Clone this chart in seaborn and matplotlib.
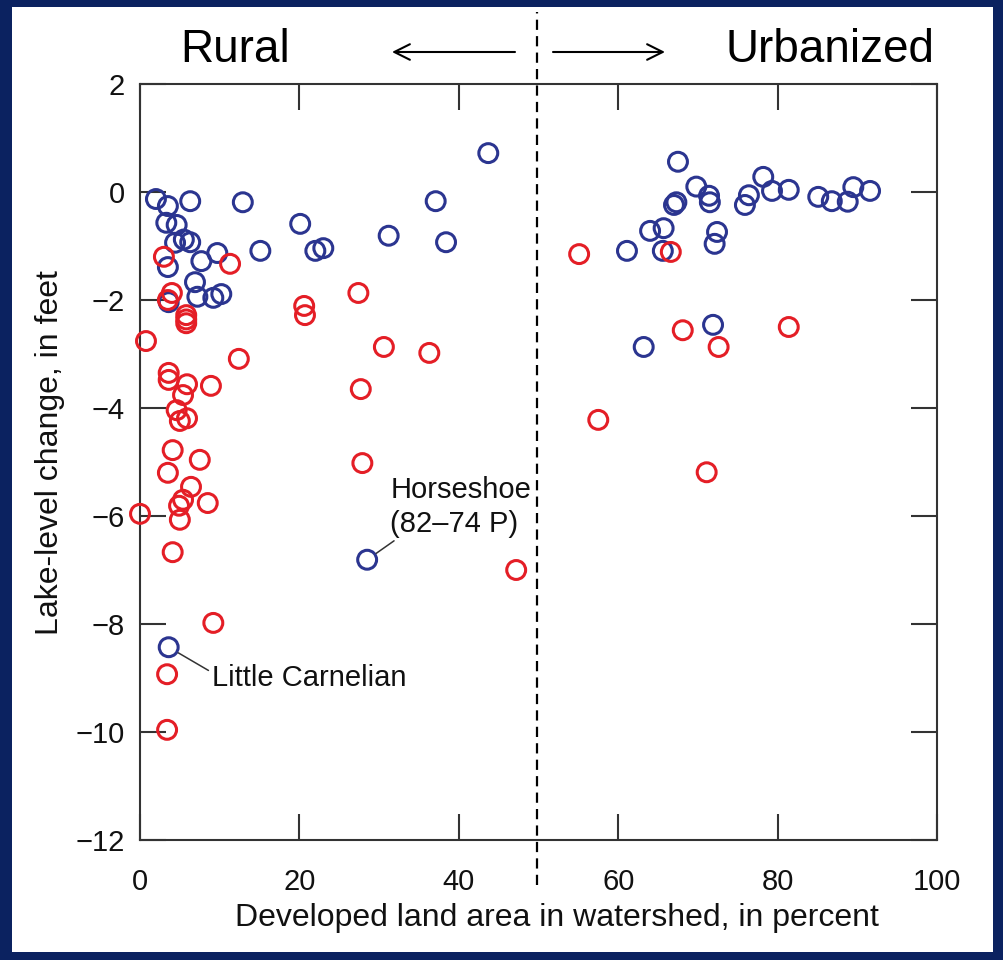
import matplotlib
matplotlib.use("Agg")
import matplotlib.pyplot as plt
import seaborn as sns
import pandas as pd
from matplotlib.patches import Rectangle

# ---- data: developed land (%) vs lake-level change (ft) ----
blue_dev = [2.0, 3.5, 6.3, 12.9, 3.3, 4.6, 4.4, 5.5, 6.3, 9.7, 7.7, 3.5, 6.9, 7.2,
            9.2, 10.2, 3.6, 15.1, 20.1, 22.0, 23.0, 31.2, 37.1, 38.4, 43.7,
            67.5, 69.8, 78.2, 79.3, 81.4, 85.1, 86.8, 89.5, 88.8, 91.6, 67.3, 67.0,
            71.4, 71.5, 76.4, 75.9, 64.0, 65.7, 61.1, 65.6, 72.4, 72.1, 71.9, 63.2]
blue_change = [-0.13, -0.26, -0.17, -0.19, -0.57, -0.61, -0.94, -0.88, -0.93, -1.13,
               -1.28, -1.39, -1.67, -1.94, -1.96, -1.89, -2.04, -1.09, -0.59, -1.09,
               -1.04, -0.81, -0.17, -0.93, 0.72,
               0.56, 0.10, 0.28, 0.02, 0.04, -0.09, -0.17, 0.09, -0.18, 0.02, -0.19,
               -0.24, -0.07, -0.19, -0.06, -0.24, -0.72, -0.67, -1.09, -1.09, -0.74,
               -0.96, -2.46, -2.87]

red_dev = [3.0, 11.3, 4.0, 3.5, 5.8, 5.8, 5.8, 20.6, 20.7, 27.4, 0.75, 12.4, 30.6,
           36.3, 3.6, 3.6, 5.9, 8.9, 5.4, 4.6, 5.9, 5.0, 27.7, 4.1, 7.5, 27.9, 3.5,
           6.4, 5.4, 4.9, 8.5, 5.0, 0.0, 4.1, 47.2, 9.2, 3.4, 3.4,
           55.1, 66.6, 68.1, 72.6, 81.4, 57.5, 71.1]
red_change = [-1.20, -1.33, -1.87, -2.00, -2.28, -2.36, -2.43, -2.11, -2.28, -1.87,
              -2.76, -3.09, -2.87, -2.98, -3.35, -3.48, -3.56, -3.59, -3.76, -4.04,
              -4.19, -4.24, -3.65, -4.78, -4.96, -5.02, -5.20, -5.46, -5.70, -5.81,
              -5.76, -6.07, -5.96, -6.67, -7.00, -7.98, -8.93, -9.96,
              -1.15, -1.11, -2.56, -2.87, -2.50, -4.22, -5.19]

# named lakes (drawn in the blue series)
named_lakes = ["Horseshoe\n(82\u201374 P)", "Little Carnelian"]
named_dev = [28.5, 3.6]
named_change = [-6.81, -8.43]

x_ticks = [0, 20, 40, 60, 80, 100]
y_ticks = [2, 0, -2, -4, -6, -8, -10, -12]
divide_at = 49.8

NAVY = "#0B2260"
BLUE = "#2B3590"
RED = "#E41E26"
INK = "#333333"

sns.set_style("ticks")
plt.rcParams["font.family"] = ["Liberation Sans", "DejaVu Sans"]
plt.rcParams["axes.unicode_minus"] = True

fig = plt.figure(figsize=(10.04, 9.6), dpi=100, facecolor=NAVY)
fig.patches.append(Rectangle((12 / 1004, 1 - 952 / 960), 981 / 1004, 945 / 960,
                             transform=fig.transFigure, facecolor="white",
                             edgecolor="none", zorder=-5))
ax = fig.add_axes([140 / 1004, 1 - 840 / 960, 797 / 1004, 756 / 960])
ax.set_facecolor("white")

blue_df = pd.DataFrame({"dev": blue_dev + named_dev,
                        "change": blue_change + named_change})
red_df = pd.DataFrame({"dev": red_dev, "change": red_change})

for df, col in [(blue_df, BLUE), (red_df, RED)]:
    n_before = len(ax.collections)
    sns.scatterplot(data=df, x="dev", y="change", ax=ax, marker="o", s=185,
                    facecolor="none", edgecolor=col, linewidth=2.2,
                    clip_on=False, zorder=3, legend=False)
    for c in ax.collections[n_before:]:
        c.set_facecolor("none")
        c.set_edgecolor(col)

ax.set_xlim(0, 100)
ax.set_ylim(-12, 2)
ax.set_xticks(x_ticks)
ax.set_yticks(y_ticks)
tick_font = ["Liberation Sans Narrow", "Liberation Sans", "DejaVu Sans"]
for lab in ax.get_xticklabels() + ax.get_yticklabels():
    lab.set_family(tick_font)
    lab.set_fontsize(21)
    lab.set_color("#111111")
ax.tick_params(direction="in", length=19, width=1.5, color=INK,
               top=True, right=True, labeltop=False, labelright=False)
ax.tick_params(axis="x", pad=20)
ax.tick_params(axis="y", pad=11)
for sp in ax.spines.values():
    sp.set_color(INK)
    sp.set_linewidth(1.5)
    sp.set_visible(True)

ax.set_xlabel("Developed land area in watershed, in percent", fontsize=23,
              color="#111111", va="center")
ax.xaxis.set_label_coords(0.523, -0.103)
ax.set_ylabel("Lake-level change, in feet", fontsize=23, color="#111111",
              va="center")
ax.yaxis.set_label_coords(-0.113, 0.513)

# rural / urbanized divide
ax.axvline(divide_at, ymin=-0.06, ymax=1.095, color="black", lw=1.6,
           ls=(0, (4.6, 2.8)), clip_on=False, zorder=2)

# lake labels
ax.annotate(named_lakes[0], xy=(named_dev[0], named_change[0]),
            xytext=(31.4, -5.26), ha="left", va="top", fontsize=21,
            linespacing=1.25, color="#111111",
            arrowprops=dict(arrowstyle="-", lw=1.1, color=INK, shrinkA=0,
                            shrinkB=8, relpos=(0.06, 0.0)))
ax.annotate(named_lakes[1], xy=(named_dev[1], named_change[1]),
            xytext=(9.0, -8.74), ha="left", va="top", fontsize=21,
            color="#111111",
            arrowprops=dict(arrowstyle="-", lw=1.1, color=INK, shrinkA=0,
                            shrinkB=8, relpos=(0.0, 0.7)))

# header
fig.text(235 / 1004, 1 - 50 / 960, "Rural", ha="center", va="center",
         fontsize=33, color="black")
fig.text(830 / 1004, 1 - 50 / 960, "Urbanized", ha="center", va="center",
         fontsize=33, color="black")
ax.annotate("", xy=(392, 960 - 52), xytext=(515, 960 - 52),
            xycoords="figure pixels", textcoords="figure pixels",
            arrowprops=dict(arrowstyle="->", lw=1.5, color="black",
                            mutation_scale=28, shrinkA=0, shrinkB=0))
ax.annotate("", xy=(665, 960 - 52), xytext=(553, 960 - 52),
            xycoords="figure pixels", textcoords="figure pixels",
            arrowprops=dict(arrowstyle="->", lw=1.5, color="black",
                            mutation_scale=28, shrinkA=0, shrinkB=0))

fig.savefig("out.png", dpi=100, facecolor=NAVY)
